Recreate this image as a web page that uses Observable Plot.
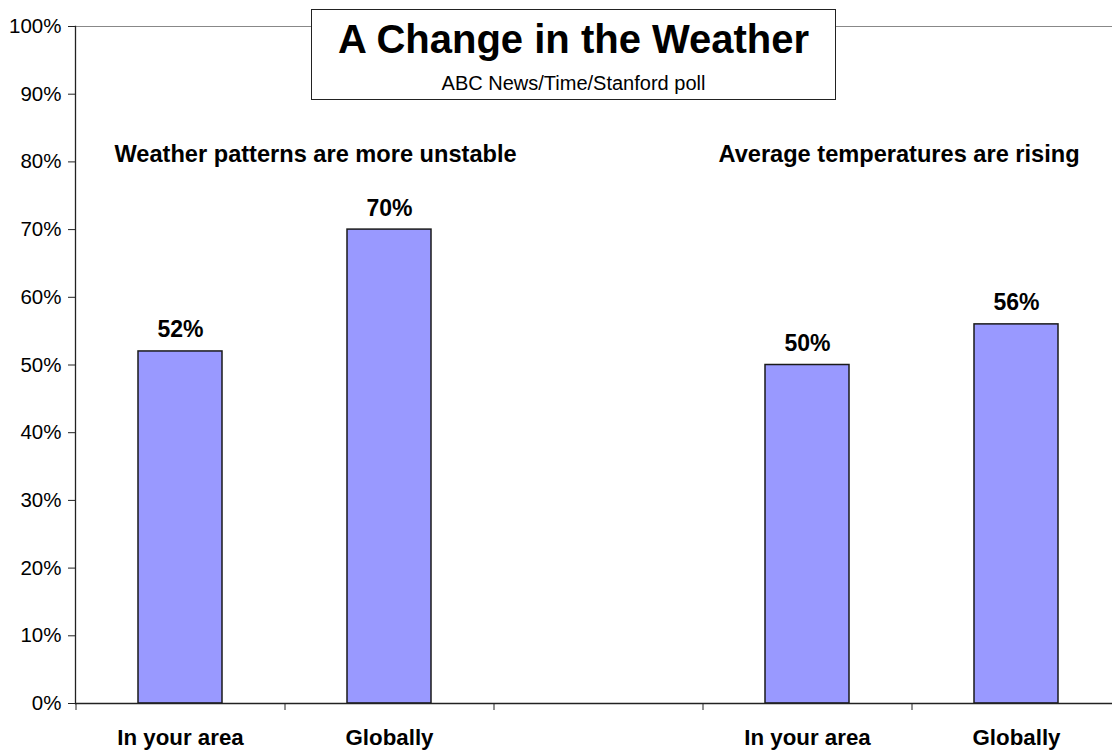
<!DOCTYPE html>
<html>
<head>
<meta charset="utf-8">
<script src="https://cdn.jsdelivr.net/npm/d3@7"></script>
<script src="https://cdn.jsdelivr.net/npm/@observablehq/plot@0.6"></script>
<style>
  html, body { margin: 0; padding: 0; background: #fff; overflow: hidden; }
  body { position: relative; width: 1112px; height: 750px; font-family: "Liberation Sans", Arial, sans-serif; }
  #chart { position: absolute; left: 0; top: 0; width: 1120px; }
  #chart svg { max-width: none !important; }
  #titlebox {
    position: absolute; left: 311px; top: 9px; width: 525px; height: 91px;
    box-sizing: border-box; border: 1px solid #222; background: #fff; color: #000;
  }
  #titlebox .t { position: absolute; left: 0; right: 0; text-align: center; line-height: 1; white-space: nowrap; }
  #title { top: 9px; font-size: 40px; font-weight: bold; }
  #subtitle { top: 63px; font-size: 20px; }
</style>
</head>
<body>
<div id="chart"></div>
<div id="titlebox">
  <div class="t" id="title">A Change in the Weather</div>
  <div class="t" id="subtitle">ABC News/Time/Stanford poll</div>
</div>
<script>
// ---- data ----
const keys = ["area1", "glob1", "gap", "area2", "glob2"];
const categoryLabels = ["In your area", "Globally", "", "In your area", "Globally"];
const values = [52, 70, null, 50, 56];
const groupTitles = ["Weather patterns are more unstable", "Average temperatures are rising"];
const groupStartKeys = ["area1", "area2"];
const yTicks = [0, 10, 20, 30, 40, 50, 60, 70, 80, 90, 100];

// ---- layout constants ----
const W = 1120, H = 750;
const mL = 75, mR = 0, mT = 26, mB = 47;
const step = (W - mL - mR) / keys.length;
const groupTitleY = 80;
const groupTitleDx = [-66, -89];
const font = "Liberation Sans, Arial, sans-serif";

const bars = keys.map((k, i) => ({key: k, value: values[i]})).filter(d => d.value != null);
const labelOf = Object.fromEntries(keys.map((k, i) => [k, categoryLabels[i]]));
const groups = groupTitles.map((t, i) => ({title: t, key: groupStartKeys[i], dx: groupTitleDx[i]}));

const chart = Plot.plot({
  width: W, height: H,
  marginLeft: mL, marginRight: mR, marginTop: mT, marginBottom: mB,
  style: {fontFamily: font, color: "#000", background: "transparent", overflow: "visible", maxWidth: "none"},
  x: {domain: keys, paddingInner: 0.6, paddingOuter: 0.3, axis: null},
  y: {domain: [0, 100], axis: null},
  marks: [
    Plot.ruleY([100], {stroke: "#888", strokeWidth: 1}),
    Plot.barY(bars, {x: "key", y: "value", fill: "#9999FF", stroke: "#1a1a1a", strokeWidth: 1.5}),
    Plot.ruleY([0], {stroke: "#222", strokeWidth: 1.3}),
    Plot.frame({anchor: "left", stroke: "#222", strokeWidth: 1.3}),
    Plot.axisY({ticks: yTicks, tickSize: 7, tickPadding: 7, tickFormat: d => d + "%", fontSize: 20.5, stroke: "#222", label: null}),
    Plot.axisX({ticks: keys, tickSize: 7, tickFormat: () => "", dx: -step / 2, stroke: "#222", label: null}),
    Plot.axisX({ticks: keys, tickSize: 0, tickPadding: 26, tickFormat: k => labelOf[k], fontSize: 22.3, fontWeight: "bold", label: null}),
    Plot.text(bars, {x: "key", y: "value", text: d => d.value + "%", lineAnchor: "bottom", dy: -14, fontSize: 23, fontWeight: "bold", fill: "#000"}),
    ...groups.map(g => Plot.text([g], {x: "key", y: () => groupTitleY, text: "title", textAnchor: "start", lineAnchor: "bottom", dx: g.dx, fontSize: 23.6, fontWeight: "bold", fill: "#000"}))
  ]
});
document.getElementById("chart").appendChild(chart);
</script>
</body>
</html>
